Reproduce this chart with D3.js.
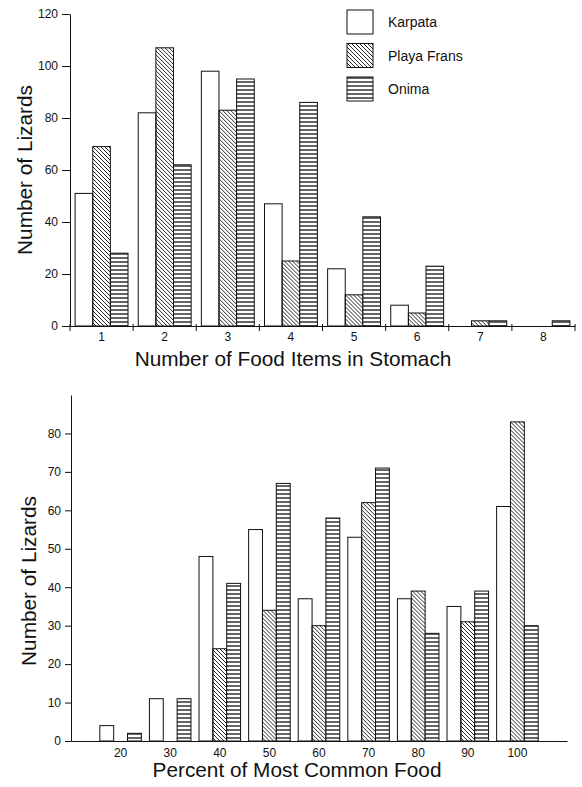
<!DOCTYPE html>
<html>
<head>
<meta charset="utf-8">
<script src="https://cdn.jsdelivr.net/npm/d3@7"></script>
<style>
    body { margin: 0; background: #fff; }
    svg { font-family: "Liberation Sans", Arial, sans-serif; }
    .axis text { font-size: 12px; fill: #111; }
    .axis path, .axis line { stroke: #111; }
    .title { font-size: 20.8px; fill: #111; }
    .legend text { font-size: 14px; fill: #111; }
</style>
</head>
<body>
<div id="chart"></div>
<script>
// series names
let sites = ['Karpata', 'Playa Frans', 'Onima'];

// top panel: number of food items in stomach
let itemCats = ['1', '2', '3', '4', '5', '6', '7', '8'];
let itemKarpata = [51, 82, 98, 47, 22, 8, 0, 0];
let itemPlaya = [69, 107, 83, 25, 12, 5, 2, 0];
let itemOnima = [28, 62, 95, 86, 42, 23, 2, 2];
let itemTicks = [0, 20, 40, 60, 80, 100, 120];

// bottom panel: percent of most common food
let pctCats = ['20', '30', '40', '50', '60', '70', '80', '90', '100'];
let pctKarpata = [4, 11, 48, 55, 37, 53, 37, 35, 61];
let pctPlaya = [0, 0, 24, 34, 30, 62, 39, 31, 83];
let pctOnima = [2, 11, 41, 67, 58, 71, 28, 39, 30];
let pctTicks = [0, 10, 20, 30, 40, 50, 60, 70, 80];

let svg = d3.select('#chart').append('svg')
    .attr('width', 582)
    .attr('height', 787);

// hatch patterns
let defs = svg.append('defs');
defs.append('pattern')
    .attr('id', 'diag')
    .attr('patternUnits', 'userSpaceOnUse')
    .attr('width', 4).attr('height', 4)
    .append('path')
    .attr('d', 'M-1,-1L5,5M3,-1L5,1M-1,3L1,5')
    .attr('stroke', '#111')
    .attr('stroke-width', 0.9);
let hp = defs.append('pattern')
    .attr('id', 'horiz')
    .attr('patternUnits', 'userSpaceOnUse')
    .attr('width', 4).attr('height', 4);
hp.append('rect').attr('width', 4).attr('height', 4).attr('fill', '#fff');
hp.append('line')
    .attr('x1', 0).attr('x2', 4).attr('y1', 2).attr('y2', 2)
    .attr('stroke', '#111')
    .attr('stroke-width', 1.3);

let fills = {'Karpata': '#fff', 'Playa Frans': 'url(#diag)', 'Onima': 'url(#horiz)'};

function drawBars(g, cats, series, x, y) {
    let xs = d3.scaleBand()
        .domain(sites)
        .range([0, x.bandwidth()])
        .paddingInner(0)
        .paddingOuter(0.29);

    let rows = cats.map(function(c, i) {
        return sites.map(function(s, j) { return {cat: c, site: s, value: series[j][i]}; });
    });

    g.selectAll('.group')
        .data(rows)
        .enter().append('g')
        .attr('transform', function(d) { return 'translate(' + x(d[0].cat) + ',0)'; })
        .selectAll('rect')
        .data(function(d) { return d.filter(function(e) { return e.value > 0; }); })
        .enter().append('rect')
        .attr('x', function(d) { return xs(d.site); })
        .attr('width', xs.bandwidth())
        .attr('y', function(d) { return y(d.value); })
        .attr('height', function(d) { return y(0) - y(d.value); })
        .attr('fill', function(d) { return fills[d.site]; })
        .attr('stroke', '#111')
        .attr('stroke-width', 1);
}

// ---- top panel ----
let x1 = d3.scaleBand().domain(itemCats).range([70, 575]).padding(0);
let y1 = d3.scaleLinear().domain([0, 120]).range([326, 14]);

let topPanel = svg.append('g');
drawBars(topPanel, itemCats, [itemKarpata, itemPlaya, itemOnima], x1, y1);

topPanel.append('g')
    .attr('class', 'axis')
    .attr('transform', 'translate(70,0)')
    .call(d3.axisLeft(y1).tickValues(itemTicks).tickSize(8).tickSizeOuter(0).tickPadding(4));

topPanel.append('g')
    .attr('class', 'axis')
    .attr('transform', 'translate(0,' + y1(0) + ')')
    .call(d3.axisBottom(x1).tickSize(0).tickSizeOuter(0).tickPadding(6));

// tick marks between categories
let bounds = itemCats.map(function(c) { return x1(c); }).concat([x1.range()[1]]);
topPanel.selectAll('.bound')
    .data(bounds)
    .enter().append('line')
    .attr('x1', function(d) { return d; })
    .attr('x2', function(d) { return d; })
    .attr('y1', y1(0) - 2)
    .attr('y2', y1(0) + 5)
    .attr('stroke', '#111');

topPanel.append('text')
    .attr('class', 'title')
    .attr('x', 293)
    .attr('y', 366)
    .attr('text-anchor', 'middle')
    .text('Number of Food Items in Stomach');

topPanel.append('text')
    .attr('class', 'title')
    .attr('transform', 'translate(32,170) rotate(-90)')
    .attr('text-anchor', 'middle')
    .text('Number of Lizards');

// legend
let legend = svg.append('g').attr('class', 'legend');
let ly = d3.scalePoint().domain(sites).range([22, 89]);
legend.selectAll('rect')
    .data(sites)
    .enter().append('rect')
    .attr('x', 347)
    .attr('y', function(d) { return ly(d) - 12; })
    .attr('width', 26)
    .attr('height', 24)
    .attr('fill', function(d) { return fills[d]; })
    .attr('stroke', '#111');
legend.selectAll('text')
    .data(sites)
    .enter().append('text')
    .attr('x', 388)
    .attr('y', function(d) { return ly(d) + 5; })
    .text(function(d) { return d; });

// ---- bottom panel ----
let x2 = d3.scaleBand().domain(pctCats).range([71, 567]).paddingInner(0).paddingOuter(0.5);
let y2 = d3.scaleLinear().domain([0, 90]).range([741, 395]);

let bottomPanel = svg.append('g');
drawBars(bottomPanel, pctCats, [pctKarpata, pctPlaya, pctOnima], x2, y2);

bottomPanel.append('g')
    .attr('class', 'axis')
    .attr('transform', 'translate(71,0)')
    .call(d3.axisLeft(y2).tickValues(pctTicks).tickSize(6).tickSizeOuter(0).tickPadding(4));

bottomPanel.append('g')
    .attr('class', 'axis')
    .attr('transform', 'translate(0,' + y2(0) + ')')
    .call(d3.axisBottom(x2).tickSize(0).tickSizeOuter(0).tickPadding(7));

bottomPanel.append('text')
    .attr('class', 'title')
    .attr('x', 297)
    .attr('y', 777)
    .attr('text-anchor', 'middle')
    .text('Percent of Most Common Food');

bottomPanel.append('text')
    .attr('class', 'title')
    .attr('transform', 'translate(36,581) rotate(-90)')
    .attr('text-anchor', 'middle')
    .text('Number of Lizards');
</script>
</body>
</html>
